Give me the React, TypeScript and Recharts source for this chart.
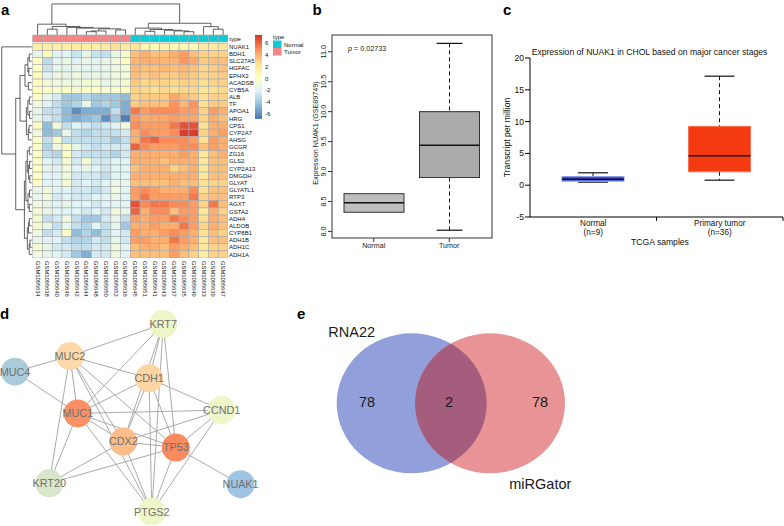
import React from 'react';
import { ScatterChart, Scatter, XAxis, YAxis, BarChart, Bar } from 'recharts';

const FONT = '"Liberation Sans", Arial, Helvetica, sans-serif';

// ---------- a: heatmap ----------
const genes = [
  'NUAK1', 'BDH1', 'SLC27A5', 'HGFAC', 'EPHX2', 'ACADSB', 'CYB5A', 'ALB', 'TF', 'APOA1',
  'HRG', 'CPS1', 'CYP2A7', 'AHSG', 'GCGR', 'ZG16', 'GLS2', 'CYP2A13', 'DMGDH', 'GLYAT',
  'GLYATL1', 'RTP3', 'AGXT', 'GSTA2', 'ADH4', 'ALDOB', 'CYP8B1', 'ADH1B', 'ADH1C', 'ADH1A',
];
const samples = [
  'GSM1095634', 'GSM1095638', 'GSM1095640', 'GSM1095646', 'GSM1095642', 'GSM1095644', 'GSM1095648',
  'GSM1095650', 'GSM1095652', 'GSM1095636', 'GSM1095645', 'GSM1095651', 'GSM1095641', 'GSM1095643',
  'GSM1095637', 'GSM1095635', 'GSM1095649', 'GSM1095633', 'GSM1095639', 'GSM1095647',
];
const sampleType = [
  'Tumor', 'Tumor', 'Tumor', 'Tumor', 'Tumor', 'Tumor', 'Tumor', 'Tumor', 'Tumor', 'Tumor',
  'Normal', 'Normal', 'Normal', 'Normal', 'Normal', 'Normal', 'Normal', 'Normal', 'Normal', 'Normal',
];
// scaled expression, one row per gene, columns in sample order
const expr = [
  [1.5, 1.5, 1.5, 1.5, 1.8, 1.5, 1.5, 1.8, 2.5, 1.8, 2.2, 1.0, 0.5, 1.2, 0.6, 0.8, 0.5, 1.8, 1.8, 2.0],
  [-1.8, 0.5, -2, -2, -2.8, -1.5, -2.8, -3, -1.5, -0.5, 3.5, 4, 3.5, 3.5, 4, 4.5, 3.5, 3, 3, 3],
  [0.3, -3.2, -1.8, -1.2, -2.2, -1.5, -1.8, -1.5, -1, 0.2, 3.8, 4, 4, 3.8, 3.8, 4.6, 4.2, 3.2, 3.5, 3.5],
  [0, -2.8, -1.5, -1.8, -1.5, -1.8, -1.8, -1.5, -1.2, -0.8, 3.8, 3.5, 3.5, 3.8, 3.5, 3.8, 3.5, 2.8, 3.2, 3.5],
  [0.5, -1.8, -1.2, -1.5, -1, -1.5, -1.2, -1.5, -1, -0.8, 3.5, 3.2, 3.5, 3.2, 3.2, 3.5, 3.2, 2.8, 3, 3.2],
  [0.3, -0.8, -1, -1, -1.2, -0.5, -0.8, -1.5, -1, -0.5, 3.2, 2.8, 3, 3, 2.8, 3, 3, 2.5, 3, 3],
  [0.5, -0.2, -0.5, 0.2, -0.5, -0.3, 0, -0.5, -0.3, 0, 3, 2.8, 2.5, 2.8, 2.5, 2.8, 2.8, 2.2, 2.5, 2.8],
  [0.2, -1.5, -2.5, -4, -4, -3.5, -4, -4, -4, -4.5, 3, 3.2, 3.2, 3.2, 4.2, 3.5, 3.2, 2.5, 3, 3],
  [-1, -2, -3, -4, -3.5, -1.5, -4, -3.5, -4, -5, 3.2, 3.5, 3.5, 3.5, 4.8, 3.8, 4.8, 2.5, 3.2, 3.2],
  [-1.5, -3, -3, -4.5, -6, -5, -5, -5, -3, -5, 5.5, 4.5, 5, 5, 5, 4.5, 4.5, 3, 4.5, 4],
  [-1.5, -2.5, -3, -4.5, -5, -4.5, -4, -6, -4, -6.5, 4.5, 4, 4.2, 4.2, 4.5, 4.2, 4.2, 3, 4, 3.5],
  [0, -4.5, -1, -3, -2, -2.5, -3, -2.5, -2, -1, 5, 4.5, 4.5, 4.5, 5.5, 6.5, 6.5, 2.5, 4, 4],
  [-1, -4.5, -4, -1.5, -3, -3.5, -3, -3, -3, -2.5, 4, 5, 4.5, 4.5, 5, 7, 7, 3, 4, 4.5],
  [0, -3, -0.5, -3, -3, -3, -3, -3, -4, -3, 4, 5.5, 6, 5, 5, 5, 4.5, 2.5, 4.5, 4],
  [0, -3.5, -1, 0, -1.5, -2.5, -3, -2.5, -2.5, -2.5, 6, 5, 4.5, 4.5, 4.5, 5, 5, 3.5, 4.5, 4],
  [0, -3, -3.5, 0, -2.5, -3, -3, -3, -3.5, -2.5, 4, 4, 4, 4, 4, 4.5, 4, 2, 3.5, 4],
  [0, -2, -2.5, -0.5, -2.5, -0.5, -2.5, -2.5, -2, -2, 4, 4, 4, 3.5, 4, 4, 4, 2, 3.5, 3.5],
  [0, -1.5, -2, -1, -2, -1.5, -2, -2.5, -2, -2, 3.5, 4, 4, 4, 3, 3.5, 4, 2, 3.5, 3.5],
  [0, -2, -2, -1, -2.5, -2.5, -2.5, -3, -2, -2, 4, 4, 4, 4, 4, 4, 4, 2, 3.5, 3.5],
  [0, -2, -2, -0.5, -2.5, -2, -2.5, -2, -1.5, -1.5, 3.5, 3.5, 3.5, 3.5, 4, 3.5, 3.5, 2.5, 3, 3],
  [-1.5, -1, -2, -2, -2.5, -2.5, -3, -2.5, -1, -2, 4.5, 5, 4.5, 4, 4, 4, 5, 2.5, 3.5, 3.5],
  [-1.5, -1, -2.5, -2, -2.5, -2.5, -2, -2, -1.5, -2, 4.5, 5.5, 4.5, 4.5, 4.5, 4.5, 5.5, 3, 3.5, 3.5],
  [-1, -1.5, -2, -1.5, -2, -2, -2.5, -2, -2, -2, 6.5, 5, 5.5, 5.5, 5, 5, 4.5, 3, 5.5, 3.5],
  [-0.5, -1.5, -2, -2, -2, -2.5, -2, -2.5, -1, -1.5, 6, 4, 5, 5, 3.5, 4.5, 4.5, 2, 4, 3],
  [-0.5, -3, -2.5, -1, -3, -4, -4, -2.5, -1.5, -3, 4.5, 4, 4.5, 4.5, 5.5, 5, 4.5, 2.5, 4, 3.5],
  [-0.5, -1.5, -3, -1.5, -3, -3.5, -2, -3, -1.5, -4, 4, 4, 4.5, 4, 4, 5.5, 4.5, 3, 4, 3.5],
  [-1, -3, -2.5, 0, -4.5, -3.5, -4.5, -3, -2, -2.5, 4.5, 4, 4, 4.5, 5, 4.5, 4, 2.5, 3.5, 3],
  [-1.5, -2, -2, -3, -3.5, -3.5, -2.5, -3, -1.5, -2.5, 4.5, 4.5, 4, 4, 5.5, 4.5, 4, 2, 3.5, 3.5],
  [-0.5, -1.5, -2.5, -2.5, -3, -3, -2.5, -2.5, -1, -2, 3.5, 4, 4, 3.5, 4.5, 4, 3.5, 2, 3, 3],
  [-1, -1.5, -2, -2.5, -4, -5, -2.5, -2.5, -1, -2, 3.5, 3.5, 3.5, 3.5, 4.5, 3.5, 3, 1.5, 3, 3],
];
// hclust-style merges: negative = leaf (1-based), positive = earlier merge; third = height
const colMerges = [
  [-2, -3, 0.8], [-6, -7, 0.45], [-8, 2, 0.55], [-9, -10, 0.7], [3, 4, 0.85],
  [-5, 5, 0.95], [-4, 6, 1.05], [1, 7, 1.18], [-1, 8, 1.5],
  [-16, -17, 0.45], [-15, 10, 0.55], [-12, -13, 0.5], [-14, 11, 0.65], [12, 13, 0.75],
  [-11, 14, 0.95], [-19, -20, 0.8], [-18, 16, 1.16], [15, 17, 1.63], [9, 18, 4.33],
];
const rowMerges = [
  [-2, -3, 0.25], [-4, -5, 0.3], [1, 2, 0.4], [-6, -7, 0.35], [3, 4, 0.69],
  [-8, -9, 0.25], [-10, -11, 0.22], [6, 7, 0.4], [-12, -13, 0.28], [9, -14, 0.35], [8, 10, 0.55],
  [-15, -16, 0.25], [-17, -18, 0.22], [-19, -20, 0.2], [13, 14, 0.32], [12, 15, 0.45],
  [-21, -22, 0.22], [-23, -24, 0.25], [17, 18, 0.38], [16, 19, 0.6],
  [-25, -26, 0.25], [21, -27, 0.33], [-28, -29, 0.18], [23, -30, 0.26], [22, 24, 0.45],
  [20, 25, 0.75], [5, 11, 1.2], [27, 26, 1.64], [-1, 28, 3.07],
];
const legendTicks = [6, 4, 2, 0, -2, -4, -6];

// ---------- b: GSE89749 boxplot ----------
const gseGroups = ['Normal', 'Tumor'];
const gseLow = [8.32, 8.02];
const gseQ1 = [8.32, 8.9];
const gseMed = [8.48, 9.44];
const gseQ3 = [8.63, 10.0];
const gseHigh = [8.63, 11.14];
const gseTicks = [8, 8.5, 9, 9.5, 10, 10.5, 11];

// ---------- c: TCGA boxplot ----------
const tcgaGroups = ['Normal', 'Primary tumor'];
const tcgaN = [9, 36];
const tcgaLow = [0.48, 0.79];
const tcgaQ1 = [0.63, 2.11];
const tcgaMed = [0.95, 4.65];
const tcgaQ3 = [1.37, 9.25];
const tcgaHigh = [1.95, 17.14];
const tcgaTicks = [-5, 0, 5, 10, 15, 20];

// ---------- d: PPI network (layout coordinates) ----------
const netNodes = ['KRT7', 'MUC2', 'MUC4', 'CDH1', 'CCND1', 'MUC1', 'CDX2', 'TP53', 'KRT20', 'NUAK1', 'PTGS2'];
const netX = [5.44, 2.33, 0.5, 4.97, 7.39, 2.59, 4.11, 5.86, 1.64, 8.02, 5.06];
const netY = [0.8, 1.87, 2.39, 2.61, 3.67, 3.78, 4.72, 4.92, 6.11, 6.14, 7.06];
const netEdges = [
  ['KRT7', 'MUC2'], ['KRT7', 'CDH1'], ['KRT7', 'CDX2'], ['KRT7', 'MUC1'], ['KRT7', 'TP53'], ['KRT7', 'PTGS2'],
  ['MUC4', 'MUC2'], ['MUC4', 'MUC1'],
  ['MUC2', 'CDH1'], ['MUC2', 'MUC1'], ['MUC2', 'KRT20'], ['MUC2', 'CDX2'], ['MUC2', 'TP53'], ['MUC2', 'PTGS2'],
  ['CDH1', 'MUC1'], ['CDH1', 'CCND1'], ['CDH1', 'CDX2'], ['CDH1', 'TP53'], ['CDH1', 'PTGS2'],
  ['MUC1', 'CCND1'], ['MUC1', 'CDX2'], ['MUC1', 'TP53'], ['MUC1', 'KRT20'], ['MUC1', 'PTGS2'],
  ['CCND1', 'CDX2'], ['CCND1', 'TP53'], ['CCND1', 'PTGS2'],
  ['CDX2', 'TP53'], ['CDX2', 'KRT20'], ['CDX2', 'PTGS2'],
  ['TP53', 'KRT20'], ['TP53', 'NUAK1'], ['TP53', 'PTGS2'],
];

// ---------- e: Venn (layout coordinates) ----------
const vennSets = ['RNA22', 'miRGator'];
const vennCx = [11.17, 19.0];
const vennCy = [10.33, 10.33];
const vennCounts = ['78', '2', '78'];
const vennCountX = [6.7, 14.9, 24.0];
const vennCountY = [10.17, 10.17, 10.17];
const vennNameX = [5.17, 24.03];
const vennNameY = [3.17, 18.33];

// ---------- styles ----------
const HEAT_STOPS = ['#4575B4', '#91BFDB', '#E0F3F8', '#FFFFBF', '#FEE090', '#FC8D59', '#D73027'];
const HEAT_MIN = -6.8;
const HEAT_MAX = 7.3;
const typeColor: Record<string, string> = { Normal: '#12CAD1', Tumor: '#F38684' };
const gseFill: Record<string, string> = { Normal: '#BEBEBE', Tumor: '#ABABAB' };
const tcgaFill: Record<string, string> = { Normal: '#3E51D8', 'Primary tumor': '#F43A10' };
const tcgaStroke: Record<string, string> = { Normal: '#8E9CF2', 'Primary tumor': '#F7704F' };
const nodeFill: Record<string, string> = {
  KRT7: '#EEF5C7', MUC2: '#FDD8A9', MUC4: '#AACCDA', CDH1: '#FDD6A4', CCND1: '#EEF5C7', MUC1: '#FA9166',
  CDX2: '#FDBD8A', TP53: '#FA8B5F', KRT20: '#D8E7C9', NUAK1: '#9DC4E2', PTGS2: '#EEF5C7',
};
const vennFill: Record<string, string> = { RNA22: '#919FDA', miRGator: '#E89496' };
const VENN_OVERLAP = '#A55D7D';

const hexRgb = (h: string) => [1, 3, 5].map((i) => parseInt(h.slice(i, i + 2), 16));
function heatColor(v: number) {
  const n = HEAT_STOPS.length - 1;
  const t = Math.max(0, Math.min(1, (v - HEAT_MIN) / (HEAT_MAX - HEAT_MIN))) * n;
  const i = Math.min(Math.floor(t), n - 1);
  const f = t - i;
  const a = hexRgb(HEAT_STOPS[i]);
  const b = hexRgb(HEAT_STOPS[i + 1]);
  return `rgb(${a.map((c, k) => Math.round(c + (b[k] - c) * f)).join(',')})`;
}

// ---------- panel a layout ----------
const A_W = 290;
const A_H = 305;
const A_MARGIN = { top: 3, right: 2, bottom: 0, left: 0 };
const A_YAXIS_W = 60;
const A_XAXIS_H = 47;
const A_XDOM: [number, number] = [-3.35, 20];
const A_YDOM: [number, number] = [-5.63, 30];
const CELL_W = (A_W - A_MARGIN.left - A_MARGIN.right - A_YAXIS_W) / (A_XDOM[1] - A_XDOM[0]);
const CELL_H = (A_H - A_MARGIN.top - A_MARGIN.bottom - A_XAXIS_H) / (A_YDOM[1] - A_YDOM[0]);
const ANNOT_Y = -0.67;
const COL_BASE = -1.17;
const ROW_BASE = -0.1;

function treeLinks(merges: number[][]) {
  const centers: number[] = [];
  const heights: number[] = [];
  const pos = (id: number) => (id < 0 ? -id - 0.5 : centers[id - 1]);
  const hgt = (id: number) => (id < 0 ? 0 : heights[id - 1]);
  return merges.map(([a, b, h], i) => {
    const pa = pos(a);
    const pb = pos(b);
    centers[i] = (pa + pb) / 2;
    heights[i] = h;
    return [[pa, hgt(a)], [pa, h], [pb, h], [pb, hgt(b)]];
  });
}

const colLinks = treeLinks(colMerges).map((l) => l.map(([p, h]) => ({ x: p, y: COL_BASE - h })));
const rowLinks = treeLinks(rowMerges).map((l) => l.map(([p, h]) => ({ x: ROW_BASE - h, y: p })));
const heatCells = expr.flatMap((row, r) => row.map((v, c) => ({ x: c + 0.5, y: r + 0.5, v })));
const annotCells = samples.map((s, c) => ({ x: c + 0.5, y: ANNOT_Y, type: sampleType[c] }));

const NoShape = () => <g />;
const DENDRO_LINE = { stroke: '#3A3A3A', strokeWidth: 0.8 };

const CellShape = (p: any) => (
  <rect x={p.cx - CELL_W / 2} y={p.cy - CELL_H / 2} width={CELL_W} height={CELL_H}
    fill={heatColor(p.payload.v)} stroke="#A8A8A8" strokeWidth={0.6} />
);
const AnnotShape = (p: any) => (
  <rect x={p.cx - CELL_W / 2} y={p.cy - 3.5} width={CELL_W} height={7}
    fill={typeColor[p.payload.type]} stroke="#A8A8A8" strokeWidth={0.6} />
);
const GeneTick = (p: any) => (
  <text x={p.x} y={p.y} dy="0.35em" fontSize={6} fill="#111" textAnchor="start">
    {genes[Math.floor(p.payload.value)]}
  </text>
);
const SampleTick = (p: any) => (
  <text transform={`translate(${p.x},${p.y}) rotate(90)`} dy="0.35em" fontSize={5.8} fill="#111" textAnchor="start">
    {samples[Math.floor(p.payload.value)]}
  </text>
);

function HeatmapPanel() {
  return (
    <ScatterChart width={A_W} height={A_H} margin={A_MARGIN}>
      <XAxis type="number" dataKey="x" domain={A_XDOM} allowDataOverflow ticks={samples.map((_, i) => i + 0.5)}
        interval={0} height={A_XAXIS_H} axisLine={false} tickLine={false} tickSize={2} tickMargin={1} tick={SampleTick} />
      <YAxis type="number" dataKey="y" domain={A_YDOM} allowDataOverflow reversed orientation="right"
        ticks={genes.map((_, i) => i + 0.5)} interval={0} width={A_YAXIS_W} axisLine={false} tickLine={false}
        tickSize={1} tickMargin={0} tick={GeneTick} />
      {colLinks.map((pts, i) => (
        <Scatter key={'c' + i} data={pts} line={DENDRO_LINE} shape={NoShape} isAnimationActive={false} />
      ))}
      {rowLinks.map((pts, i) => (
        <Scatter key={'r' + i} data={pts} line={DENDRO_LINE} shape={NoShape} isAnimationActive={false} />
      ))}
      <Scatter data={annotCells} shape={AnnotShape} isAnimationActive={false} />
      <Scatter data={heatCells} shape={CellShape} isAnimationActive={false} />
    </ScatterChart>
  );
}

// ---------- box plots ----------
function makeBoxShape(fills: Record<string, string>, strokes: Record<string, string> | null, cap: number) {
  return (p: any) => {
    const { x, width, payload } = p;
    const top = Math.min(p.y, p.y + p.height);
    const h = Math.abs(p.height);
    const span = payload.high - payload.low;
    const py = (v: number) => top + ((payload.high - v) / span) * h;
    const cx = x + width / 2;
    const ch = (width * cap) / 2;
    const stroke = strokes ? strokes[payload.name] : '#333';
    return (
      <g>
        {payload.high > payload.q3 && (
          <g>
            <line x1={cx} x2={cx} y1={py(payload.high)} y2={py(payload.q3)} stroke="#111" strokeDasharray="4 3" />
            <line x1={cx - ch} x2={cx + ch} y1={py(payload.high)} y2={py(payload.high)} stroke="#111" strokeWidth={1.2} />
          </g>
        )}
        {payload.low < payload.q1 && (
          <g>
            <line x1={cx} x2={cx} y1={py(payload.q1)} y2={py(payload.low)} stroke="#111" strokeDasharray="4 3" />
            <line x1={cx - ch} x2={cx + ch} y1={py(payload.low)} y2={py(payload.low)} stroke="#111" strokeWidth={1.2} />
          </g>
        )}
        <rect x={x} y={py(payload.q3)} width={width} height={py(payload.q1) - py(payload.q3)}
          fill={fills[payload.name]} stroke={stroke} strokeWidth={1} />
        <line x1={x} x2={x + width} y1={py(payload.med)} y2={py(payload.med)} stroke="#111" strokeWidth={1.5} />
      </g>
    );
  };
}

const gseData = gseGroups.map((g, i) => ({
  name: g, range: [gseLow[i], gseHigh[i]], low: gseLow[i], q1: gseQ1[i], med: gseMed[i], q3: gseQ3[i], high: gseHigh[i],
}));
const tcgaData = tcgaGroups.map((g, i) => ({
  name: g, range: [tcgaLow[i], tcgaHigh[i]], low: tcgaLow[i], q1: tcgaQ1[i], med: tcgaMed[i], q3: tcgaQ3[i], high: tcgaHigh[i],
}));

const B_X = 290;
const B_W = 204;
const B_H = 260;
const B_MARGIN = { top: 35, right: 2, bottom: 0, left: 0 };
const B_YAXIS_W = 42;
const B_XAXIS_H = 22;
const B_PLOT = {
  left: B_X + B_YAXIS_W, right: B_X + B_W - B_MARGIN.right, top: B_MARGIN.top, bottom: B_H - B_XAXIS_H,
};

const BTickY = (p: any) => (
  <text transform={`translate(${p.x},${p.y}) rotate(-90)`} textAnchor="middle" fontSize={7.2} fill="#222">
    {Number(p.payload.value).toFixed(1)}
  </text>
);
const BTickX = (p: any) => (
  <text x={p.x} y={p.y + 3.6} dy="0.35em" textAnchor="middle" fontSize={7.2} fill="#222">{p.payload.value}</text>
);

function GsePanel() {
  return (
    <BarChart width={B_W} height={B_H} data={gseData} margin={B_MARGIN}>
      <XAxis dataKey="name" height={B_XAXIS_H} padding={{ left: 4, right: 5 }} axisLine={false}
        tickLine={{ stroke: '#333' }} tickSize={4} tickMargin={0} tick={BTickX} interval={0} />
      <YAxis type="number" domain={[7.89, 11.28]} allowDataOverflow ticks={gseTicks} width={B_YAXIS_W} axisLine={false}
        tickLine={{ stroke: '#333' }} tickSize={4} tickMargin={2} tick={BTickY} interval={0} />
      <Bar dataKey="range" barSize={60} shape={makeBoxShape(gseFill, null, 0.43)} isAnimationActive={false} />
    </BarChart>
  );
}

const C_X = 480;
const C_W = 304;
const C_H = 260;
const C_MARGIN = { top: 58, right: 1, bottom: 0, left: 0 };
const C_YAXIS_W = 50;
const C_XAXIS_H = 43;
const C_BAND = (C_W - C_MARGIN.right - C_YAXIS_W) / tcgaGroups.length;

const CTickX = (p: any) => {
  const i = tcgaGroups.indexOf(p.payload.value);
  const bx = p.x + C_BAND / 2;
  return (
    <g>
      <line x1={bx} x2={bx} y1={p.y} y2={p.y + 4} stroke="#000" strokeWidth={1} />
      <text x={p.x} y={p.y + 8.6} textAnchor="middle" fontSize={8.2} fill="#111">{p.payload.value}</text>
      <text x={p.x} y={p.y + 18.2} textAnchor="middle" fontSize={8.2} fill="#111">(n={tcgaN[i]})</text>
    </g>
  );
};

function TcgaPanel() {
  return (
    <BarChart width={C_W} height={C_H} data={tcgaData} margin={C_MARGIN}>
      <XAxis dataKey="name" height={C_XAXIS_H} axisLine={{ stroke: '#000' }} tickLine={false} tickSize={0}
        tickMargin={0} tick={CTickX} interval={0} />
      <YAxis type="number" domain={[-5, 20]} allowDataOverflow ticks={tcgaTicks} width={C_YAXIS_W}
        axisLine={{ stroke: '#000' }} tickLine={{ stroke: '#000' }} tickSize={5} tickMargin={1}
        tick={{ fontSize: 8.6, fill: '#111' }} interval={0} />
      <Bar dataKey="range" barSize={62} shape={makeBoxShape(tcgaFill, tcgaStroke, 0.48)} isAnimationActive={false} />
    </BarChart>
  );
}

// ---------- network ----------
const nodeData = netNodes.map((n, i) => ({ x: netX[i], y: netY[i], name: n }));
const edgeData = netEdges.map(([a, b]) => {
  const i = netNodes.indexOf(a);
  const j = netNodes.indexOf(b);
  return [{ x: netX[i], y: netY[i] }, { x: netX[j], y: netY[j] }];
});
const NODE_R = 14;
const NodeShape = (p: any) => (
  <g>
    <circle cx={p.cx} cy={p.cy} r={NODE_R} fill={nodeFill[p.payload.name]} />
    <text x={p.cx} y={p.cy} dy="0.36em" textAnchor="middle" fontSize={10.8} fill="#707070">{p.payload.name}</text>
  </g>
);

function NetworkPanel() {
  return (
    <ScatterChart width={300} height={226} margin={{ top: 0, right: 0, bottom: 1, left: 0 }}>
      <XAxis type="number" dataKey="x" domain={[0, 10]} allowDataOverflow hide />
      <YAxis type="number" dataKey="y" domain={[0, 7.5]} allowDataOverflow reversed hide />
      {edgeData.map((pts, i) => (
        <Scatter key={'e' + i} data={pts} line={{ stroke: '#ABABAB', strokeWidth: 1 }} shape={NoShape} isAnimationActive={false} />
      ))}
      <Scatter data={nodeData} shape={NodeShape} isAnimationActive={false} />
    </ScatterChart>
  );
}

// ---------- venn ----------
const VENN_RX = 75;
const VENN_RY = 70;
const vennData = vennSets.map((s, i) => ({ x: vennCx[i], y: vennCy[i], name: s }));
const vennOverlapData = [{ x: vennCx[1], y: vennCy[1], name: vennSets[1] }];
const vennCountData = vennCounts.map((c, i) => ({ x: vennCountX[i], y: vennCountY[i], label: c }));
const vennNameData = vennSets.map((s, i) => ({ x: vennNameX[i], y: vennNameY[i], label: s }));

const VennSetShape = (p: any) => (
  <g>
    {p.payload.name === vennSets[0] && (
      <defs>
        <clipPath id="vennClip">
          <ellipse cx={p.cx} cy={p.cy} rx={VENN_RX} ry={VENN_RY} />
        </clipPath>
      </defs>
    )}
    <ellipse cx={p.cx} cy={p.cy} rx={VENN_RX} ry={VENN_RY} fill={vennFill[p.payload.name]} />
  </g>
);
const VennOverlapShape = (p: any) => (
  <ellipse cx={p.cx} cy={p.cy} rx={VENN_RX} ry={VENN_RY} fill={VENN_OVERLAP} clipPath="url(#vennClip)" />
);
const VennTextShape = (p: any) => (
  <text x={p.cx} y={p.cy} dy="0.36em" textAnchor="middle" fontSize={14.5} fill="#1A1A1A">{p.payload.label}</text>
);

function VennPanel() {
  return (
    <ScatterChart width={484} height={226} margin={{ top: 0, right: 0, bottom: 0, left: 0 }}>
      <XAxis type="number" dataKey="x" domain={[0, 48.4]} allowDataOverflow hide />
      <YAxis type="number" dataKey="y" domain={[0, 22.6]} allowDataOverflow reversed hide />
      <Scatter data={vennData} shape={VennSetShape} isAnimationActive={false} />
      <Scatter data={vennOverlapData} shape={VennOverlapShape} isAnimationActive={false} />
      <Scatter data={vennCountData} shape={VennTextShape} isAnimationActive={false} />
      <Scatter data={vennNameData} shape={VennTextShape} isAnimationActive={false} />
    </ScatterChart>
  );
}

// ---------- static annotations ----------
const legendY = (v: number) => 78.4 - 5.95 * v;

function Overlay() {
  const letter = { fontSize: 15, fontWeight: 700, fill: '#000' } as const;
  return (
    <svg width={784} height={526} style={{ position: 'absolute', left: 0, top: 0, pointerEvents: 'none' }}>
      <defs>
        <linearGradient id="heatLegend" x1="0" y1="0" x2="0" y2="1">
          {HEAT_STOPS.slice().reverse().map((c, i) => (
            <stop key={c} offset={i / (HEAT_STOPS.length - 1)} stopColor={c} />
          ))}
        </linearGradient>
      </defs>
      <text x={1} y={15} {...letter}>a</text>
      <text x={312.5} y={15} {...letter}>b</text>
      <text x={503} y={15} {...letter}>c</text>
      <text x={0} y={319} {...letter}>d</text>
      <text x={297} y={319} {...letter}>e</text>

      {/* heatmap legends */}
      <text x={229.5} y={40.6} fontSize={6} fill="#111">type</text>
      <rect x={255} y={legendY(HEAT_MAX)} width={7} height={legendY(HEAT_MIN) - legendY(HEAT_MAX)} fill="url(#heatLegend)" />
      {legendTicks.map((v) => (
        <text key={v} x={265} y={legendY(v)} dy="0.35em" fontSize={6} fill="#111">{v}</text>
      ))}
      <text x={273} y={39} fontSize={6} fill="#111">type</text>
      <rect x={273} y={40.5} width={8.5} height={7.5} fill={typeColor.Normal} />
      <text x={284} y={46.5} fontSize={6} fill="#111">Normal</text>
      <rect x={273} y={48} width={8.5} height={7.5} fill={typeColor.Tumor} />
      <text x={284} y={54} fontSize={6} fill="#111">Tumor</text>

      {/* b */}
      <rect x={B_PLOT.left} y={B_PLOT.top} width={B_PLOT.right - B_PLOT.left} height={B_PLOT.bottom - B_PLOT.top}
        fill="none" stroke="#333" strokeWidth={1} />
      <text transform="translate(317.5,133) rotate(-90)" textAnchor="middle" fontSize={7.2} fill="#222">
        Expression NUAK1 (GSE89749)
      </text>
      <text x={348} y={50.5} fontSize={7.2} fill="#222">
        <tspan fontStyle="italic">p</tspan> = 0.02733
      </text>

      {/* c */}
      <text x={649.5} y={55} textAnchor="middle" fontSize={8.6} fill="#111">
        Expression of NUAK1 in CHOL based on major cancer stages
      </text>
      <text transform="translate(510,137.5) rotate(-90)" textAnchor="middle" fontSize={8.6} fill="#111">
        Transcript per million
      </text>
      <text x={660} y={244.5} textAnchor="middle" fontSize={8.6} fill="#111">TCGA samples</text>
    </svg>
  );
}

export default function App() {
  return (
    <div style={{ position: 'absolute', left: 0, top: 0, width: 784, height: 526, background: '#fff', fontFamily: FONT, overflow: 'hidden' }}>
      <div style={{ position: 'absolute', left: 0, top: 0 }}><HeatmapPanel /></div>
      <div style={{ position: 'absolute', left: B_X, top: 0 }}><GsePanel /></div>
      <div style={{ position: 'absolute', left: C_X, top: 0 }}><TcgaPanel /></div>
      <div style={{ position: 'absolute', left: 0, top: 300 }}><NetworkPanel /></div>
      <div style={{ position: 'absolute', left: 300, top: 300 }}><VennPanel /></div>
      <Overlay />
    </div>
  );
}
